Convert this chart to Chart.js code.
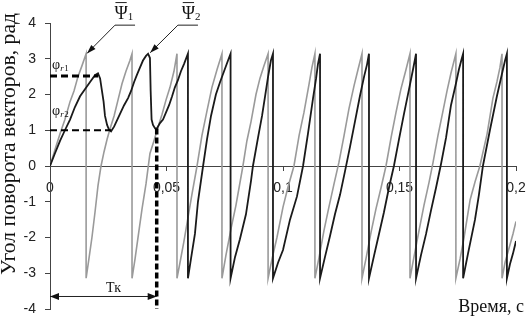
<!DOCTYPE html>
<html>
<head>
<meta charset="utf-8">
<script src="https://cdn.jsdelivr.net/npm/chart.js@4.4.1/dist/chart.umd.min.js"></script>
<style>
  html, body { margin: 0; padding: 0; background: #fff; }
  canvas { display: block; }
</style>
</head>
<body>
<canvas id="myChart" width="526" height="316"></canvas>
<script>
// time in ms, angle in rad
const grayTime = [
  0, 2.1, 4.3, 6.4, 8.6, 10.3, 12.0, 13.7, 15.5,
  15.5, 16.7, 18.0, 19.3, 20.6, 21.9, 23.2, 24.5, 25.8, 27.5, 29.2, 30.9, 32.6, 34.3, 35.2,
  35.2, 36.5, 38.2, 39.5, 41.2, 42.9, 44.6, 46.4, 48.1, 49.8, 51.5, 53.2, 54.5,
  54.5, 55.8, 57.5, 59.2, 60.9, 63.1, 65.2, 67.4, 69.5, 71.7, 73.8,
  73.8, 75.5, 77.7, 79.8, 82.8, 84.5, 86.3, 88.4, 90.1, 91.8, 93.6,
  93.6, 95.3, 97.4, 100.0, 102.1, 104.7, 106.9, 109.0, 111.2, 112.4, 113.7,
  113.7, 115.5, 117.6, 119.7, 121.9, 124.0, 126.2, 128.3, 130.5, 132.2, 133.9,
  133.9, 135.6, 137.8, 139.9, 142.1, 144.2, 146.4, 148.5, 150.6, 152.8, 154.5,
  154.5, 156.2, 158.4, 160.5, 162.7, 164.4, 166.5, 168.7, 170.4, 172.1, 174.2,
  174.2, 176.0, 177.7, 180.3, 182.4, 184.5, 187.6, 190.1, 191.8, 193.1, 194.0,
  194.0, 195.3, 197.0, 198.7, 200.0
];
const grayAngle = [
  0, 0.45, 0.9, 1.3, 1.8, 2.1, 2.5, 2.8, 3.14,
  -3.14, -2.6, -2.0, -1.3, -0.55, 0.0, 0.4, 0.75, 1.05, 1.4, 1.85, 2.3, 2.65, 2.95, 3.14,
  -3.14, -2.6, -1.8, -1.2, -0.5, 0.35, 0.7, 1.1, 1.45, 1.85, 2.2, 2.65, 3.14,
  -3.14, -2.7, -2.1, -1.45, -0.8, 0, 0.85, 1.55, 2.2, 2.7, 3.14,
  -3.14, -2.5, -1.75, -1.1, 0, 0.7, 1.25, 2.0, 2.45, 2.8, 3.14,
  -3.14, -2.6, -2.0, -1.15, -0.6, 0, 0.85, 1.5, 2.3, 2.75, 3.14,
  -3.14, -2.55, -1.8, -1.15, -0.5, 0.1, 0.85, 1.6, 2.25, 2.7, 3.14,
  -3.14, -2.6, -1.85, -1.2, -0.6, 0, 0.8, 1.5, 2.15, 2.7, 3.14,
  -3.14, -2.55, -1.8, -1.1, -0.45, 0.1, 0.85, 1.55, 2.1, 2.6, 3.14,
  -3.14, -2.6, -2.0, -0.95, -0.45, 0, 0.9, 1.9, 2.35, 2.75, 3.14,
  -3.14, -2.7, -2.3, -1.9, -1.55
];
const blackTime = [
  0, 2.1, 4.3, 6.4, 8.6, 10.7, 12.9, 15.0, 17.2, 19.3, 20.6, 21.5, 22.3, 23.0, 23.6, 24.5,
  25.3, 26.2, 27.5, 28.8, 30.0, 31.8, 33.5, 34.8, 36.1, 37.3, 38.6, 39.9, 41.2, 42.1,
  42.9, 43.2, 43.6, 44.2, 45.1, 45.9, 47.2, 48.5, 49.8, 51.1, 52.4, 53.6, 54.9, 56.2, 57.5, 59.2,
  59.2, 60.5, 62.2, 63.5, 65.7, 67.4, 69.1, 71.2, 73.0, 74.7, 76.4, 77.5,
  77.5, 79.4, 81.5, 84.1, 86.3, 87.1, 89.3, 91.0, 92.3, 93.6, 94.8, 95.7,
  95.7, 97.9, 100.0, 103.0, 106.0, 108.6, 110.7, 112.9, 114.2, 115.0, 115.9,
  115.9, 118.0, 120.2, 122.3, 124.5, 126.6, 128.8, 130.9, 133.0, 134.8, 136.1, 136.9,
  136.9, 139.1, 141.2, 143.3, 145.5, 147.6, 149.8, 151.9, 154.1, 155.8, 157.1,
  157.1, 159.2, 161.4, 163.5, 165.7, 167.8, 170.0, 172.1, 174.2, 175.5, 176.7, 177.3,
  177.3, 179.4, 182.4, 184.1, 185.8, 188.8, 191.8, 194.4, 195.3, 196.1,
  196.1, 197.4, 198.7, 200.0
];
const blackAngle = [
  0, 0.35, 0.7, 1.0, 1.3, 1.65, 1.95, 2.15, 2.35, 2.54, 2.59, 2.45, 2.1, 1.8, 1.4, 1.15,
  1.02, 0.97, 1.1, 1.28, 1.45, 1.7, 1.9, 2.1, 2.35, 2.55, 2.75, 2.95, 3.08, 3.14,
  3.02, 2.1, 1.3, 1.15, 1.05, 1.05, 1.2, 1.3, 1.5, 1.7, 1.95, 2.2, 2.4, 2.65, 2.85, 3.14,
  -3.14, -2.6, -1.9, -1.0, 0, 0.75, 1.4, 2.0, 2.35, 2.65, 2.95, 3.14,
  -3.14, -2.55, -2.05, -1.35, -0.4, 0, 0.8, 1.4, 1.95, 2.5, 2.95, 3.14,
  -3.14, -2.7, -2.35, -1.5, -0.85, 0, 0.9, 1.9, 2.45, 2.85, 3.14,
  -3.14, -2.55, -1.95, -1.35, -0.8, -0.15, 0.55, 1.25, 1.95, 2.5, 2.85, 3.14,
  -3.14, -2.5, -1.9, -1.3, -0.6, 0, 0.75, 1.45, 2.15, 2.7, 3.14,
  -3.14, -2.5, -1.9, -1.25, -0.6, 0.05, 0.8, 1.7, 2.3, 2.7, 3.0, 3.14,
  -3.14, -2.45, -1.5, -0.8, 0, 1.0, 1.95, 2.7, 2.95, 3.14,
  -3.14, -2.75, -2.45, -2.1
];

// reference levels and the Tk moment
const phiR1Line = { time: [0, 20.6], angle: [2.52, 2.52] };
const phiR2Line = { time: [0, 26.2], angle: [1.0, 1.0] };
const tkLine = { time: [45.8, 45.8], angle: [1.05, -4] };

const xTicks = [0, 50, 100, 150, 200];
const xTickLabels = ['0', '0,05', '0,1', '0,15', '0,2'];
const yTicks = [-4, -3, -2, -1, 0, 1, 2, 3, 4];

const pts = (ts, vs) => ts.map((t, i) => ({ x: t, y: vs[i] }));

function arrowHead(ctx, x0, y0, x1, y1, len, half) {
  const a = Math.atan2(y1 - y0, x1 - x0);
  const c = Math.cos(a), s = Math.sin(a);
  ctx.beginPath();
  ctx.moveTo(x1, y1);
  ctx.lineTo(x1 - len * c + half * s, y1 - len * s - half * c);
  ctx.lineTo(x1 - len * c - half * s, y1 - len * s + half * c);
  ctx.closePath();
  ctx.fill();
}

// labels, leaders and the Tk arrow
const annotations = {
  id: 'annotations',
  afterDraw(chart) {
    const ctx = chart.ctx;
    const X = v => chart.scales.x.getPixelForValue(v);
    const Y = v => chart.scales.y.getPixelForValue(v);
    ctx.save();
    ctx.strokeStyle = '#222';
    ctx.fillStyle = '#111';
    ctx.lineWidth = 1;

    // Psi leaders
    const leaders = [
      [[36.5, 3.94], [27.9, 3.94], [15.9, 3.15]],
      [[63.5, 3.94], [54.9, 3.94], [43.0, 3.17]]
    ];
    leaders.forEach(l => {
      ctx.beginPath();
      l.forEach(([t, v], i) => i ? ctx.lineTo(X(t), Y(v)) : ctx.moveTo(X(t), Y(v)));
      ctx.stroke();
      const a = l[l.length - 2], b = l[l.length - 1];
      arrowHead(ctx, X(a[0]), Y(a[1]), X(b[0]), Y(b[1]), 9, 3);
    });

    // Psi labels with overline
    [[30.5, '1'], [59.4, '2']].forEach(([t, sub]) => {
      const cx = X(t), by = Y(4.11);
      ctx.font = '18px "Liberation Serif"';
      ctx.textAlign = 'center';
      ctx.textBaseline = 'alphabetic';
      ctx.fillText('Ψ', cx, by);
      const w = ctx.measureText('Ψ').width;
      ctx.beginPath();
      ctx.moveTo(cx - w / 2 + 1, by - 16.5);
      ctx.lineTo(cx + w / 2 - 1, by - 16.5);
      ctx.stroke();
      ctx.font = '11px "Liberation Serif"';
      ctx.textAlign = 'left';
      ctx.fillText(sub, cx + w / 2, by + 1);
    });

    // phi_r labels
    [[2.72, '1'], [1.42, '2']].forEach(([v, sub]) => {
      const x0 = X(0.9), by = Y(v);
      ctx.font = '14px "Liberation Serif"';
      ctx.textAlign = 'left';
      ctx.textBaseline = 'alphabetic';
      ctx.fillText('φ', x0, by);
      const w = ctx.measureText('φ').width;
      ctx.font = 'italic 9px "Liberation Serif"';
      ctx.fillText('r', x0 + w, by + 2);
      const wr = ctx.measureText('r').width;
      ctx.font = '9px "Liberation Serif"';
      ctx.fillText(sub, x0 + w + wr + 0.5, by + 2);
    });

    // Tk double arrow
    const ay = Y(-3.65), ax0 = X(0), ax1 = X(45.8);
    ctx.beginPath();
    ctx.moveTo(ax0, ay);
    ctx.lineTo(ax1, ay);
    ctx.stroke();
    arrowHead(ctx, ax1, ay, ax0, ay, 9, 3.5);
    arrowHead(ctx, ax0, ay, ax1, ay, 9, 3.5);
    ctx.font = '14px "Liberation Serif"';
    ctx.textAlign = 'center';
    ctx.fillText('Тк', X(27.3), Y(-3.52));

    // axis titles
    ctx.fillStyle = '#111';
    ctx.font = '18px "Liberation Serif"';
    ctx.textAlign = 'right';
    ctx.fillText('Время, с', 524, 312);

    const yTitle = 'Угол поворота векторов, рад';
    ctx.font = '20px "Liberation Serif"';
    const tw = ctx.measureText(yTitle).width;
    ctx.translate(15, 144);
    ctx.rotate(-Math.PI / 2);
    ctx.scale(262 / tw, 1);
    ctx.textAlign = 'center';
    ctx.fillText(yTitle, 0, 0);
    ctx.restore();
  }
};

const config = {
  type: 'line',
  data: {
    datasets: [
      {
        label: 'phi_r1',
        data: pts(phiR1Line.time, phiR1Line.angle),
        borderColor: '#000',
        borderWidth: 3,
        borderDash: [7, 4]
      },
      {
        label: 'phi_r2',
        data: pts(phiR2Line.time, phiR2Line.angle),
        borderColor: '#000',
        borderWidth: 2,
        borderDash: [7, 4]
      },
      {
        label: 'Tk',
        data: pts(tkLine.time, tkLine.angle),
        borderColor: '#000',
        borderWidth: 3.5,
        borderDash: [6, 3]
      },
      {
        label: 'Psi2',
        data: pts(blackTime, blackAngle),
        borderColor: '#1a1a1a',
        borderWidth: 1.8
      },
      {
        label: 'Psi1',
        data: pts(grayTime, grayAngle),
        borderColor: '#9a9a9a',
        borderWidth: 1.6
      }
    ]
  },
  options: {
    responsive: false,
    animation: false,
    devicePixelRatio: 1,
    layout: { padding: { left: 0, right: 10, top: 23, bottom: 7 } },
    elements: {
      point: { radius: 0 },
      line: { tension: 0, borderCapStyle: 'butt', fill: false }
    },
    plugins: {
      legend: { display: false },
      tooltip: { enabled: false }
    },
    scales: {
      x: {
        type: 'linear',
        min: 0,
        max: 200,
        position: { y: 0 },
        z: 1,
        afterBuildTicks: s => { s.ticks = xTicks.map(v => ({ value: v })); },
        afterFit: s => { s.paddingLeft = 0; s.paddingRight = 0; },
        ticks: {
          color: '#222',
          font: { family: 'Liberation Sans', size: 14 },
          padding: 10,
          maxRotation: 0,
          autoSkip: false,
          callback: (v, i) => xTickLabels[i],
          showLabelBackdrop: true,
          backdropColor: '#fff',
          backdropPadding: 0
        },
        grid: { drawOnChartArea: false, drawTicks: true, tickLength: 4, color: '#444' },
        border: { display: true, color: '#444', width: 1 }
      },
      y: {
        type: 'linear',
        min: -4,
        max: 4,
        position: 'left',
        afterBuildTicks: s => { s.ticks = yTicks.map(v => ({ value: v })); },
        afterFit: s => { s.width = 50; s.paddingTop = 0; s.paddingBottom = 0; },
        ticks: {
          color: '#222',
          font: { family: 'Liberation Sans', size: 14 },
          padding: 9
        },
        grid: { drawOnChartArea: false, drawTicks: true, tickLength: 5, color: '#444' },
        border: { display: true, color: '#444', width: 1 }
      }
    }
  },
  plugins: [annotations]
};

const myChart = new Chart(document.getElementById('myChart'), config);
</script>
</body>
</html>
